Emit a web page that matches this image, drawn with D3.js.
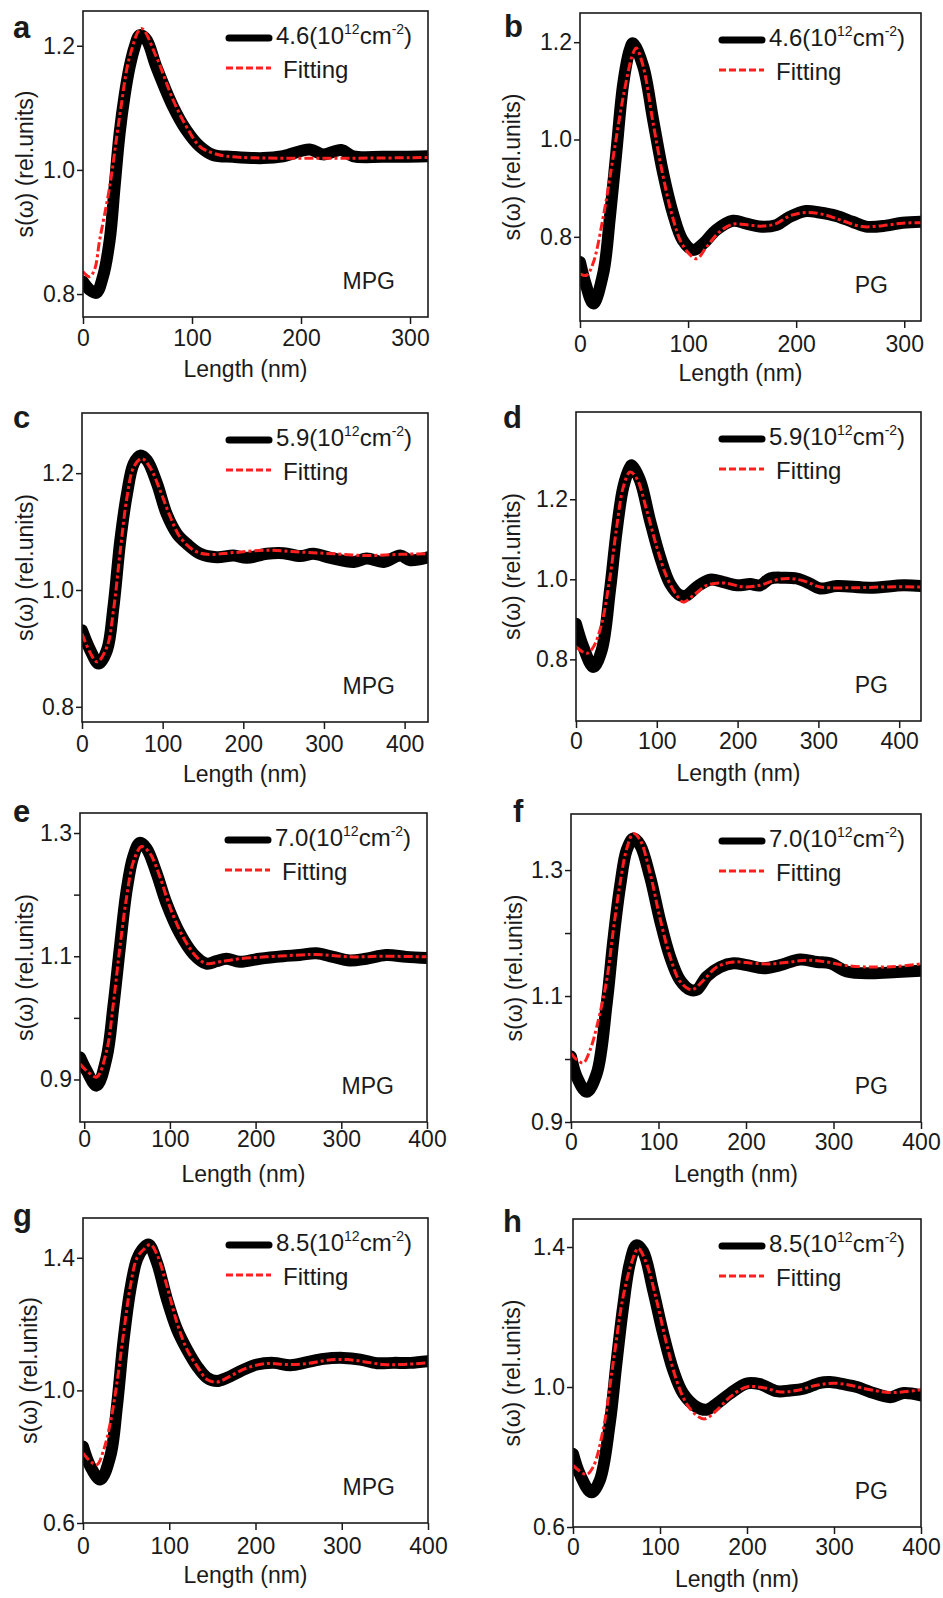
<!DOCTYPE html>
<html>
<head>
<meta charset="utf-8">
<script src="https://cdn.jsdelivr.net/npm/d3@7"></script>
<style>
  body { margin: 0; background: #fff; }
  text { font-family: "Liberation Sans", Arial, sans-serif; fill: #1a1a1a; }
</style>
</head>
<body>
<div id="container"></div>
<script>
/* CONSTANTS AND GLOBALS */
const width = 943, height = 1598;
const fontSize = 23;

/* DATA */
const panelLetters = ["a", "b", "c", "d", "e", "f", "g", "h"];
const densities = ["4.6", "4.6", "5.9", "5.9", "7.0", "7.0", "8.5", "8.5"];
const samples = ["MPG", "PG", "MPG", "PG", "MPG", "PG", "MPG", "PG"];
const fitLabel = "Fitting";
const xTitle = "Length (nm)";
const yTitle = "s(\u03c9) (rel.units)";

const xTicks300 = [0, 100, 200, 300];
const xTicks400 = [0, 100, 200, 300, 400];
const yTicksLow = [0.8, 1.0, 1.2];
const yTicksMid = [0.9, 1.1, 1.3];
const yTicksMidMinor = [1.0, 1.2];
const yTicksHigh = [0.6, 1.0, 1.4];

// measured s(w) [length nm, value]
const measA = [[0,0.820],[6.1,0.807],[12.2,0.802],[18.3,0.828],[24.5,0.887],[29,0.973],[33.6,1.059],[38.2,1.12],[42.8,1.166],[47.4,1.198],[52,1.217],[58.1,1.21],[67.3,1.166],[82.6,1.102],[94.8,1.064],[107,1.038],[119.3,1.024],[137.6,1.021],[165.1,1.019],[183.5,1.022],[208,1.033],[220.2,1.025],[237,1.032],[247.7,1.022],[275.2,1.021],[316,1.022]];
const fitA = [[0,0.836],[6.1,0.828],[10.7,0.84],[15.3,0.887],[24.5,0.973],[33.6,1.086],[42.8,1.182],[53.5,1.228],[67.3,1.182],[82.6,1.113],[94.8,1.070],[107,1.038],[119.3,1.027],[137.6,1.021],[316,1.020]];

const measB = [[0,0.748],[5,0.705],[12.3,0.663],[21.5,0.725],[27.7,0.841],[33.8,0.978],[40,1.115],[46,1.184],[49,1.198],[58.5,1.15],[67.7,1.04],[77,0.93],[86,0.848],[95,0.793],[104.6,0.773],[114,0.786],[126,0.814],[141.5,0.833],[154,0.827],[166,0.821],[181.5,0.824],[194,0.841],[209,0.853],[221.5,0.850],[237,0.843],[252,0.831],[264.6,0.821],[283,0.823],[298.5,0.829],[315.5,0.831]];
const fitB = [[0,0.724],[6,0.721],[12,0.745],[21.5,0.841],[30.8,0.965],[40,1.088],[49,1.177],[52,1.188],[58.5,1.15],[67.7,1.033],[77,0.923],[86,0.838],[95,0.783],[107.7,0.755],[117,0.779],[129,0.81],[141.5,0.826],[157,0.824],[169,0.822],[181.5,0.827],[194,0.843],[209,0.850],[225,0.846],[243,0.833],[261,0.821],[280,0.823],[298.5,0.828],[315.5,0.829]];

const measC = [[0,0.931],[10.3,0.897],[20.7,0.874],[31,0.897],[39,0.971],[47.5,1.085],[55.8,1.165],[64,1.216],[72.3,1.230],[80.6,1.222],[93,1.182],[105,1.13],[117.8,1.096],[130,1.079],[146.7,1.062],[167,1.056],[188,1.059],[204.5,1.055],[229,1.062],[250,1.063],[270.6,1.058],[287,1.062],[308,1.055],[337,1.048],[353,1.054],[374,1.048],[394.6,1.059],[407,1.051],[429,1.056]];
const fitC = [[0,0.925],[18.6,0.877],[31,0.903],[39,0.965],[47.5,1.068],[55.8,1.159],[64,1.21],[74,1.225],[84.3,1.21],[97,1.17],[109.5,1.125],[121.9,1.09],[138.4,1.068],[154.9,1.061],[188,1.064],[229,1.068],[270.6,1.065],[312,1.062],[353,1.059],[394.6,1.061],[429,1.062]];

const measD = [[0,0.889],[9.1,0.831],[21.5,0.781],[31.8,0.823],[42.1,0.973],[50.4,1.122],[58.6,1.231],[66.9,1.28],[68.9,1.285],[79.3,1.247],[91.6,1.147],[104,1.056],[116.4,0.989],[128.8,0.96],[137,0.96],[149.4,0.981],[166,0.999],[182.5,0.993],[199,0.985],[215.5,0.988],[227.9,0.985],[240.2,1.002],[256.8,1.004],[273.3,1.002],[289.8,0.989],[302.2,0.977],[322.8,0.983],[364,0.979],[405.4,0.985],[427,0.983]];
const fitD = [[0,0.831],[13.2,0.815],[21.5,0.831],[31.8,0.889],[42.1,1.006],[50.4,1.131],[58.6,1.231],[66.9,1.268],[75.2,1.252],[87.6,1.172],[99.9,1.081],[112.3,1.006],[124.7,0.96],[132.9,0.943],[145.3,0.96],[161.8,0.985],[182.5,0.991],[207.3,0.981],[227.9,0.985],[248.5,0.999],[265,1.002],[281.6,0.996],[302.2,0.981],[343.5,0.979],[384.7,0.981],[427,0.981]];

const measE = [[-4.9,0.936],[2.9,0.914],[14.5,0.890],[26.2,0.936],[34,1.018],[41.7,1.115],[49.5,1.207],[57.3,1.262],[65,1.284],[72.8,1.275],[84.4,1.235],[96,1.186],[111.6,1.137],[127.2,1.104],[142.7,1.088],[154.3,1.092],[166,1.096],[181.5,1.091],[204.8,1.096],[232,1.1],[251.4,1.102],[270.9,1.105],[290.3,1.099],[309.7,1.093],[329,1.096],[352.4,1.102],[375.7,1.099],[400,1.097]];
const fitE = [[-4.9,0.925],[2.9,0.914],[14.5,0.904],[26.2,0.947],[34,1.023],[41.7,1.115],[49.5,1.196],[57.3,1.253],[67,1.278],[76.7,1.267],[88.3,1.229],[100,1.18],[115.5,1.131],[131,1.099],[142.7,1.088],[158,1.091],[181.5,1.096],[212,1.099],[251.4,1.102],[270.9,1.103],[310,1.099],[349,1.1],[400,1.099]];

const measF = [[0,1.004],[6.5,0.972],[17.9,0.948],[29.4,0.977],[40.8,1.088],[48.4,1.189],[56.1,1.274],[63.7,1.332],[71.3,1.35],[78.9,1.34],[90.4,1.289],[101.8,1.22],[113.3,1.162],[124.7,1.125],[136.1,1.11],[143.8,1.11],[155.2,1.131],[170.4,1.146],[185.7,1.152],[201,1.149],[220,1.144],[239,1.149],[262,1.158],[281,1.154],[296.3,1.152],[315.3,1.139],[342,1.136],[372.5,1.138],[400,1.14]];
const fitF = [[0,1.009],[6.5,0.999],[14.1,0.994],[21.7,1.014],[29.4,1.051],[40.8,1.125],[48.4,1.205],[56.1,1.279],[63.7,1.334],[71.3,1.358],[78.9,1.348],[90.4,1.295],[101.8,1.223],[113.3,1.162],[124.7,1.123],[138,1.11],[151.4,1.125],[166.6,1.146],[185.7,1.154],[208.6,1.152],[227.6,1.151],[250.5,1.154],[269.6,1.157],[292.5,1.154],[311.5,1.149],[342,1.146],[372.5,1.147],[400,1.151]];

const measG = [[0,0.831],[8.5,0.771],[20.1,0.731],[31.7,0.802],[39.4,0.953],[47.1,1.153],[54.9,1.304],[62.6,1.395],[70.3,1.430],[76.1,1.44],[85.8,1.385],[97.4,1.274],[109,1.184],[120.6,1.123],[132.2,1.073],[143.8,1.038],[155.4,1.028],[167,1.038],[182.4,1.058],[201.7,1.078],[221,1.083],[240.4,1.076],[259.7,1.085],[279,1.095],[302.2,1.098],[321.5,1.093],[340.9,1.082],[360.2,1.083],[379.5,1.083],[400,1.088]];
const fitG = [[0,0.811],[8.5,0.786],[16.2,0.776],[24,0.821],[31.7,0.902],[39.4,1.023],[47.1,1.174],[54.9,1.314],[62.6,1.4],[70.3,1.425],[78.1,1.44],[85.8,1.41],[97.4,1.314],[109,1.204],[120.6,1.123],[132.2,1.073],[143.8,1.033],[155.4,1.025],[170.8,1.043],[190.1,1.068],[213.3,1.081],[236.5,1.078],[259.7,1.081],[282.9,1.091],[306.1,1.093],[329.3,1.085],[348.6,1.078],[367.9,1.078],[400,1.083]];

const measH = [[0,0.809],[7.7,0.752],[21.1,0.699],[30.7,0.733],[42.2,0.895],[49.9,1.067],[57.6,1.229],[65.3,1.353],[72.9,1.405],[80.6,1.387],[92.1,1.277],[103.6,1.153],[115.2,1.048],[126.7,0.981],[142,0.943],[153.6,0.935],[165.1,0.952],[180.4,0.981],[199.6,1.01],[215,1.008],[234.2,0.988],[249.5,0.99],[264.9,0.995],[284,1.012],[295.6,1.014],[310.9,1.008],[326.3,1.0],[341.7,0.986],[364.7,0.971],[380,0.983],[400,0.976]];
const fitH = [[0,0.776],[15.4,0.75],[23,0.771],[34.5,0.876],[46.1,1.067],[57.6,1.258],[69.1,1.368],[74.9,1.396],[84.5,1.353],[96,1.248],[107.5,1.124],[119,1.019],[130.5,0.952],[142,0.919],[151.6,0.909],[165.1,0.933],[180.4,0.971],[199.6,1.0],[218.8,0.998],[238,0.986],[257.2,0.99],[280.2,1.005],[299.4,1.011],[318.6,1.005],[341.7,0.992],[364.7,0.984],[400,0.992]];

const measured = [measA, measB, measC, measD, measE, measF, measG, measH];
const fits = [fitA, fitB, fitC, fitD, fitE, fitF, fitG, fitH];

/* LAYOUT (frame boxes in px, axis domains, label offsets) */
const panels = [
  { left: 83, right: 428, top: 11, bottom: 317, xDom: [0, 316.5], yDom: [0.763, 1.256], xT: xTicks300, yT: yTicksLow, yMinor: [], lx: 13, ly: 38, xPad: 6, tx: 50 },
  { left: 580, right: 921, top: 13, bottom: 321, xDom: [0, 315.5], yDom: [0.627, 1.26], xT: xTicks300, yT: yTicksLow, yMinor: [], lx: 504, ly: 37, xPad: 8, tx: 60 },
  { left: 82, right: 428, top: 413, bottom: 722, xDom: [0, 429], yDom: [0.774, 1.303], xT: xTicks400, yT: yTicksLow, yMinor: [], lx: 13, ly: 428, xPad: 7, tx: 49 },
  { left: 576, right: 921, top: 412, bottom: 721, xDom: [0, 427], yDom: [0.646, 1.418], xT: xTicks400, yT: yTicksLow, yMinor: [], lx: 503, ly: 428, xPad: 5, tx: 56 },
  { left: 80, right: 427, top: 813, bottom: 1122, xDom: [-4.9, 400], yDom: [0.831, 1.3325], xT: xTicks400, yT: yTicksMid, yMinor: yTicksMidMinor, lx: 13, ly: 822, xPad: 2, tx: 47 },
  { left: 571, right: 921, top: 814, bottom: 1122, xDom: [0, 400], yDom: [0.9, 1.389], xT: xTicks400, yT: yTicksMid, yMinor: yTicksMidMinor, lx: 513, ly: 822, xPad: 5, tx: 49 },
  { left: 83, right: 428, top: 1218, bottom: 1523, xDom: [0, 400], yDom: [0.6, 1.52], xT: xTicks400, yT: yTicksHigh, yMinor: [], lx: 13, ly: 1226, xPad: 8, tx: 46 },
  { left: 573, right: 921, top: 1219, bottom: 1527, xDom: [0, 400], yDom: [0.6, 1.48], xT: xTicks400, yT: yTicksHigh, yMinor: [], lx: 503, ly: 1232, xPad: 5, tx: 53 }
];

const svg = d3.select("#container")
  .append("svg")
  .attr("width", width)
  .attr("height", height);

panels.forEach((p, i) => {
  const g = svg.append("g");

  /* SCALES */
  const xScale = d3.scaleLinear().domain(p.xDom).range([p.left, p.right]);
  const yScale = d3.scaleLinear().domain(p.yDom).range([p.bottom, p.top]);

  svg.append("clipPath").attr("id", "clip" + i)
    .append("rect")
    .attr("x", p.left).attr("y", p.top)
    .attr("width", p.right - p.left).attr("height", p.bottom - p.top);

  const line = d3.line()
    .x(d => xScale(d[0]))
    .y(d => yScale(d[1]))
    .curve(d3.curveCatmullRom.alpha(0.5));

  const plot = g.append("g").attr("clip-path", `url(#clip${i})`);

  // thick black measured profile
  plot.append("path")
    .datum(measured[i])
    .attr("d", line)
    .attr("fill", "none")
    .attr("stroke", "#000")
    .attr("stroke-width", 12)
    .attr("stroke-linejoin", "round")
    .attr("stroke-linecap", "round");

  // red dash-dot fit
  plot.append("path")
    .datum(fits[i])
    .attr("d", line)
    .attr("fill", "none")
    .attr("stroke", "#ff1f1f")
    .attr("stroke-width", 3)
    .attr("stroke-dasharray", "9,3,3,3");

  // frame
  g.append("rect")
    .attr("x", p.left).attr("y", p.top)
    .attr("width", p.right - p.left).attr("height", p.bottom - p.top)
    .attr("fill", "none")
    .attr("stroke", "#1a1a1a")
    .attr("stroke-width", 1.6);

  /* AXES */
  const xAxis = d3.axisBottom(xScale)
    .tickValues(p.xT)
    .tickSizeInner(7)
    .tickSizeOuter(0)
    .tickPadding(p.xPad)
    .tickFormat(d3.format("d"));
  const xg = g.append("g")
    .attr("transform", `translate(0,${p.bottom})`)
    .call(xAxis);
  xg.select(".domain").remove();
  xg.selectAll("line").attr("stroke", "#1a1a1a").attr("stroke-width", 1.5);
  xg.selectAll("text").attr("font-size", fontSize).attr("font-family", null).attr("fill", "#1a1a1a");

  const yAxis = d3.axisLeft(yScale)
    .tickValues(p.yT)
    .tickSizeInner(6)
    .tickSizeOuter(0)
    .tickPadding(2)
    .tickFormat(d3.format(".1f"));
  const yg = g.append("g")
    .attr("transform", `translate(${p.left},0)`)
    .call(yAxis);
  yg.select(".domain").remove();
  yg.selectAll("line").attr("stroke", "#1a1a1a").attr("stroke-width", 1.5);
  yg.selectAll("text").attr("font-size", fontSize).attr("font-family", null).attr("fill", "#1a1a1a");

  if (p.yMinor.length) {
    const ym = g.append("g")
      .attr("transform", `translate(${p.left},0)`)
      .call(d3.axisLeft(yScale).tickValues(p.yMinor).tickSizeInner(6).tickSizeOuter(0).tickFormat(""));
    ym.select(".domain").remove();
    ym.selectAll("line").attr("stroke", "#1a1a1a").attr("stroke-width", 1.5);
  }

  // axis titles
  g.append("text")
    .attr("x", (p.left + p.right) / 2 - 10)
    .attr("y", p.bottom + 60)
    .attr("text-anchor", "middle")
    .attr("font-size", fontSize)
    .text(xTitle);

  g.append("text")
    .attr("transform", `translate(${p.left - p.tx},${(p.top + p.bottom) / 2}) rotate(-90)`)
    .attr("text-anchor", "middle")
    .attr("font-size", fontSize)
    .text(yTitle);

  // panel letter
  g.append("text")
    .attr("x", p.lx).attr("y", p.ly)
    .attr("font-size", 31)
    .attr("font-weight", "bold")
    .text(panelLetters[i]);

  // sample label
  g.append("text")
    .attr("x", p.right - 33)
    .attr("y", p.bottom - 28)
    .attr("text-anchor", "end")
    .attr("font-size", fontSize)
    .text(samples[i]);

  /* LEGEND */
  const ly1 = p.top + 27, ly2 = p.top + 57;
  g.append("line")
    .attr("x1", p.right - 199).attr("x2", p.right - 159)
    .attr("y1", ly1).attr("y2", ly1)
    .attr("stroke", "#000").attr("stroke-width", 7)
    .attr("stroke-linecap", "round");
  const t = g.append("text")
    .attr("x", p.right - 152).attr("y", ly1 + 6)
    .attr("font-size", 24);
  t.append("tspan").text(densities[i] + "(10");
  t.append("tspan").attr("font-size", 14).attr("dy", -10).text("12");
  t.append("tspan").attr("dy", 10).text("cm");
  t.append("tspan").attr("font-size", 14).attr("dy", -10).text("-2");
  t.append("tspan").attr("dy", 10).text(")");

  g.append("line")
    .attr("x1", p.right - 202).attr("x2", p.right - 157)
    .attr("y1", ly2).attr("y2", ly2)
    .attr("stroke", "#ff1f1f").attr("stroke-width", 3)
    .attr("stroke-dasharray", "7,3");
  g.append("text")
    .attr("x", p.right - 145).attr("y", ly2 + 10)
    .attr("font-size", 24)
    .text(fitLabel);
});
</script>
</body>
</html>
